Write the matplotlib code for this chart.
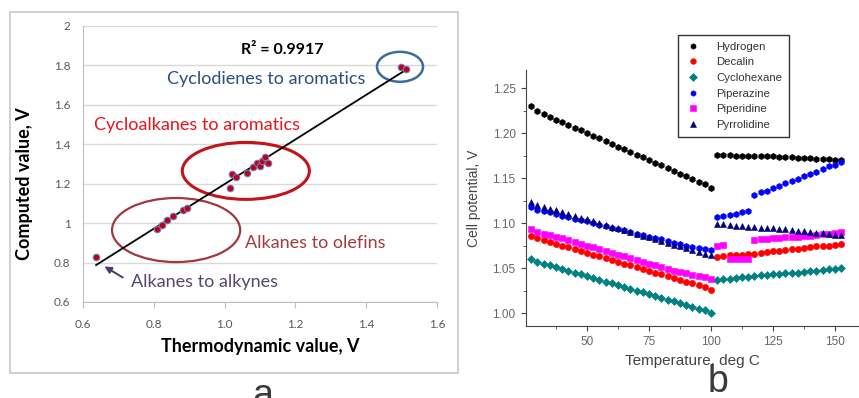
import numpy as np
import matplotlib.pyplot as plt
from matplotlib.patches import Ellipse, Rectangle

# ---- panel a: computed vs thermodynamic cell voltage ----
thermo_v = [0.637, 0.809, 0.823, 0.837, 0.854, 0.882, 0.894,
            1.015, 1.021, 1.032, 1.063, 1.080, 1.092, 1.100, 1.106, 1.114, 1.123,
            1.498, 1.512]
computed_v = [0.828, 0.971, 0.991, 1.016, 1.037, 1.067, 1.077,
              1.179, 1.250, 1.235, 1.255, 1.285, 1.306, 1.290, 1.316, 1.336, 1.306,
              1.793, 1.783]
a_yticks = [0.6, 0.8, 1.0, 1.2, 1.4, 1.6, 1.8, 2.0]
a_ylabels = ["0.6", "0.8", "1", "1.2", "1.4", "1.6", "1.8", "2"]
a_xticks = [0.6, 0.8, 1.0, 1.2, 1.4, 1.6]
a_xlabels = ["0.6", "0.8", "1.0", "1.2", "1.4", "1.6"]

# ---- panel b: cell potential vs temperature ----
temp_low = [27.5, 30, 32.5, 35, 37.5, 40, 42.5, 45, 47.5, 50,
            52.5, 55, 57.5, 60, 62.5, 65, 67.5, 70, 72.5, 75,
            77.5, 80, 82.5, 85, 87.5, 90, 92.5, 95, 97.5, 100]
temp_high = [102.5, 105, 107.5, 110, 112.5, 115, 117.5, 120, 122.5, 125,
             127.5, 130, 132.5, 135, 137.5, 140, 142.5, 145, 147.5, 150, 152.5]

hydrogen = [1.230, 1.224, 1.221, 1.218, 1.215, 1.212, 1.209, 1.206, 1.203, 1.200,
            1.197, 1.194, 1.191, 1.188, 1.185, 1.182, 1.179, 1.176, 1.173, 1.170,
            1.167, 1.164, 1.161, 1.158, 1.155, 1.152, 1.149, 1.146, 1.143, 1.139,
            1.176, 1.176, 1.176, 1.175, 1.175, 1.175, 1.175, 1.174, 1.174, 1.174,
            1.173, 1.173, 1.173, 1.172, 1.172, 1.172, 1.171, 1.171, 1.171, 1.170, 1.170]
decalin = [1.086, 1.083, 1.081, 1.079, 1.077, 1.075, 1.073, 1.071, 1.069, 1.067,
           1.065, 1.063, 1.061, 1.059, 1.057, 1.055, 1.053, 1.051, 1.049, 1.047,
           1.045, 1.043, 1.041, 1.039, 1.037, 1.035, 1.033, 1.031, 1.029, 1.026,
           1.062, 1.063, 1.064, 1.064, 1.065, 1.066, 1.066, 1.067, 1.068, 1.069,
           1.069, 1.070, 1.071, 1.071, 1.072, 1.073, 1.074, 1.074, 1.075, 1.076, 1.077]
cyclohexane = [1.060, 1.057, 1.055, 1.053, 1.051, 1.049, 1.047, 1.045, 1.043, 1.041,
               1.039, 1.037, 1.035, 1.033, 1.031, 1.029, 1.027, 1.025, 1.023, 1.021,
               1.019, 1.017, 1.015, 1.013, 1.011, 1.009, 1.007, 1.005, 1.003, 1.000,
               1.037, 1.038, 1.038, 1.039, 1.040, 1.040, 1.041, 1.042, 1.042, 1.043,
               1.043, 1.044, 1.045, 1.045, 1.046, 1.047, 1.047, 1.048, 1.049, 1.049, 1.050]
piperazine = [1.118, 1.115, 1.113, 1.112, 1.110, 1.108, 1.107, 1.105, 1.103, 1.102,
              1.100, 1.098, 1.097, 1.095, 1.093, 1.092, 1.090, 1.088, 1.087, 1.085,
              1.083, 1.082, 1.080, 1.078, 1.077, 1.075, 1.073, 1.072, 1.071, 1.070,
              1.107, 1.108, 1.109, 1.110, 1.112, 1.113,
              1.131, 1.134, 1.136, 1.139, 1.141, 1.144, 1.147, 1.149, 1.152, 1.155,
              1.157, 1.160, 1.163, 1.165, 1.168]
piperidine = [1.093, 1.090, 1.088, 1.087, 1.085, 1.083, 1.081, 1.079, 1.077, 1.075,
              1.073, 1.071, 1.069, 1.067, 1.065, 1.063, 1.061, 1.059, 1.057, 1.055,
              1.053, 1.051, 1.049, 1.047, 1.046, 1.044, 1.042, 1.041, 1.040, 1.038,
              1.075, 1.076, 1.060, 1.060, 1.060, 1.060,
              1.081, 1.082, 1.082, 1.083, 1.083, 1.084, 1.084, 1.085, 1.086, 1.086,
              1.087, 1.088, 1.088, 1.089, 1.090]
pyrrolidine = [1.123, 1.120, 1.118, 1.116, 1.114, 1.112, 1.110, 1.108, 1.106, 1.104,
               1.102, 1.100, 1.098, 1.096, 1.094, 1.092, 1.090, 1.088, 1.086, 1.084,
               1.082, 1.080, 1.078, 1.076, 1.074, 1.072, 1.070, 1.068, 1.066, 1.064,
               1.099, 1.099, 1.098, 1.097, 1.097, 1.096, 1.096, 1.095, 1.094, 1.094,
               1.093, 1.093, 1.092, 1.091, 1.091, 1.090, 1.089, 1.089, 1.088, 1.087, 1.087]

series_names = ["Hydrogen", "Decalin", "Cyclohexane", "Piperazine", "Piperidine", "Pyrrolidine"]
series_vals = [hydrogen, decalin, cyclohexane, piperazine, piperidine, pyrrolidine]
series_colors = ["#000000", "#FF0000", "#008080", "#0000FF", "#FF00FF", "#000080"]
series_markers = ["h", "o", "D", "h", "s", "^"]

W, H = 859, 398


def px_rect(left, top, right, bottom):
    """Axes rect from pixel edges (origin top-left)."""
    return [left / W, 1 - bottom / H, (right - left) / W, (bottom - top) / H]


fig = plt.figure(figsize=(W / 100, H / 100), dpi=100)

# outer frame around panel a
fig.patches.append(Rectangle((10 / W, 1 - 373 / H), 448 / W, 361 / H,
                             transform=fig.transFigure, fill=False,
                             edgecolor="#C8C8C8", lw=1.2))

excel = ["Lato", "DejaVu Sans"]

ax = fig.add_axes(px_rect(83, 26, 437, 302))
ax.set_xlim(0.6, 1.6)
ax.set_ylim(0.6, 2.0)
for s in ["top", "right"]:
    ax.spines[s].set_visible(False)
ax.spines["left"].set_color("#BFBFBF")
ax.spines["bottom"].set_color("#BFBFBF")
ax.set_yticks(a_yticks, a_ylabels)
ax.set_xticks(a_xticks, a_xlabels)
ax.tick_params(axis="y", length=0, pad=9, labelsize=8.5, labelcolor="#595959")
ax.tick_params(axis="x", length=4, color="#BFBFBF", pad=8, labelsize=8.5,
               labelcolor="#595959")
for lab in ax.get_xticklabels() + ax.get_yticklabels():
    lab.set_family(excel)
ax.grid(axis="y", color="#D9D9D9", lw=1)
ax.set_axisbelow(True)

# linear trendline over the data range
coef = np.polyfit(thermo_v, computed_v, 1)
xfit = np.array([min(thermo_v), max(thermo_v)])
ax.plot(xfit, np.polyval(coef, xfit), color="black", lw=1.3, zorder=2)
ax.scatter(thermo_v, computed_v, s=22, color="#C00018", edgecolor="#6C7FB8",
           linewidth=0.8, zorder=3)

ax.set_xlabel("Thermodynamic value, V", family=excel, fontweight="bold",
              fontsize=13, labelpad=6)
ax.set_ylabel("Computed value, V", family=excel, fontweight="bold", fontsize=13)
ax.yaxis.set_label_coords(-0.141, 0.428)

ax.text(1.162, 1.879, "R² = 0.9917", family=excel, fontweight="bold",
        fontsize=11.5, ha="center", va="center")
ax.text(1.117, 1.732, "Cyclodienes to aromatics", family=excel, fontsize=13,
        color="#2E4E7E", ha="center", va="center")
ax.text(0.923, 1.498, "Cycloalkanes to aromatics", family=excel, fontsize=13,
        color="#E8141A", ha="center", va="center")
ax.text(1.255, 0.899, "Alkanes to olefins", family=excel, fontsize=13,
        color="#A23B40", ha="center", va="center")
ax.text(0.943, 0.702, "Alkanes to alkynes", family=excel, fontsize=13,
        color="#55476F", ha="center", va="center")
ax.annotate("", xy=(0.654, 0.788), xytext=(0.719, 0.717),
            arrowprops=dict(arrowstyle="-|>", color="#4B3B6B", lw=1.4,
                            mutation_scale=10))

ax.add_patch(Ellipse((1.4955, 1.793), 0.130, 0.152, fill=False,
                     edgecolor="#3E6A9C", lw=1.8))
ax.add_patch(Ellipse((1.060, 1.265), 0.359, 0.289, fill=False,
                     edgecolor="#C0151B", lw=2.2))
ax.add_patch(Ellipse((0.863, 0.965), 0.362, 0.325, fill=False,
                     edgecolor="#A0393E", lw=1.6))

# ---- panel b ----
bx = fig.add_axes(px_rect(526, 70, 859, 326))
temps = temp_low + temp_high
for name, vals, col, mk in zip(series_names, series_vals, series_colors, series_markers):
    bx.plot(temps, vals, ls="none", marker=mk, color=col, markersize=4.5,
            markeredgewidth=0.4, label=name, clip_on=False)
bx.set_xlim(25.4, 159.7)
bx.set_ylim(0.9856, 1.27)
for s in ["top", "right"]:
    bx.spines[s].set_visible(False)
bx.spines["left"].set_color("#444444")
bx.spines["bottom"].set_color("#444444")
bx.set_xticks([50, 75, 100, 125, 150])
bx.set_xticks([37.5, 62.5, 87.5, 112.5, 137.5], minor=True)
bx.set_yticks([1.00, 1.05, 1.10, 1.15, 1.20, 1.25])
bx.set_yticks([1.025, 1.075, 1.125, 1.175, 1.225], minor=True)
bx.yaxis.set_major_formatter(plt.FormatStrFormatter("%.2f"))
bx.tick_params(which="both", length=3.5, color="#444444", labelsize=8.5,
               labelcolor="#666666", pad=4)
bx.tick_params(which="minor", length=2.5)
for lab in bx.get_xticklabels() + bx.get_yticklabels():
    lab.set_family("Liberation Sans")
bx.set_xlabel("Temperature, deg C", family="Liberation Sans", fontsize=11,
              color="#444444", labelpad=4)
bx.set_ylabel("Cell potential, V", family="Liberation Sans", fontsize=10,
              color="#444444", labelpad=8)

leg = bx.legend(loc="upper left", bbox_to_anchor=(672 / W, 1 - 29 / H),
                bbox_transform=fig.transFigure, frameon=True, fancybox=False,
                prop={"family": "Liberation Sans", "size": 8.2},
                labelspacing=0.5, handletextpad=1.3, borderpad=0.6,
                handlelength=1.5, markerscale=0.9)
leg.get_frame().set_edgecolor("black")
leg.get_frame().set_linewidth(1.0)
for t in leg.get_texts():
    t.set_color("#333333")

# panel letters
fig.text(263 / W, 1 - 378 / H, "a", fontsize=27, color="#3A3A3A",
         family="Liberation Sans", ha="center", va="top")
fig.text(718 / W, 1 - 392 / H, "b", fontsize=27, color="#3A3A3A",
         family="Liberation Sans", ha="center", va="baseline")

fig.savefig("out.png", dpi=100)
